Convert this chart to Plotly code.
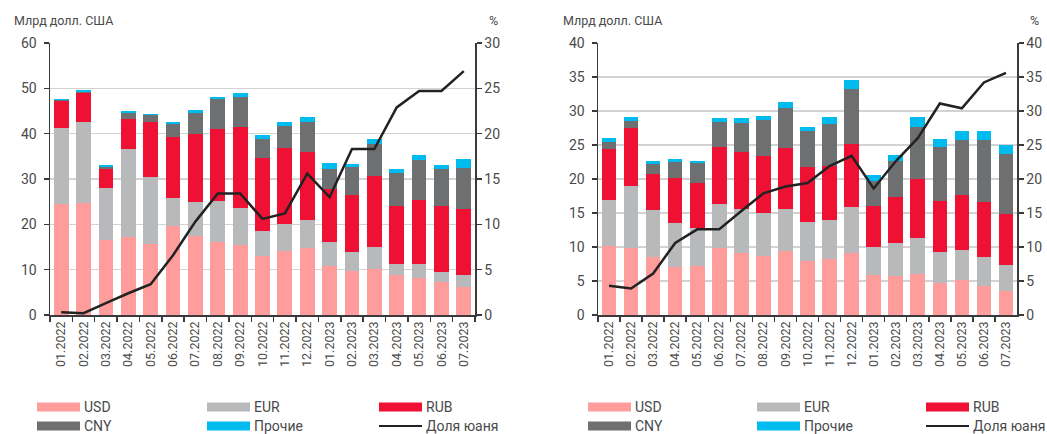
import plotly.graph_objects as go

months = ["01.2022", "02.2022", "03.2022", "04.2022", "05.2022", "06.2022", "07.2022",
          "08.2022", "09.2022", "10.2022", "11.2022", "12.2022", "01.2023", "02.2023",
          "03.2023", "04.2023", "05.2023", "06.2023", "07.2023"]

# Left chart (млрд долл. США)
usd_l = [24.5, 24.8, 16.5, 17.2, 15.6, 19.6, 17.5, 16.0, 15.5, 13.0, 14.2, 14.8, 10.9, 9.7, 10.2, 8.9, 8.2, 7.3, 6.2]
eur_l = [16.8, 17.7, 11.6, 19.5, 14.8, 6.1, 7.5, 9.2, 8.2, 5.6, 5.9, 6.1, 5.3, 4.3, 4.8, 2.4, 3.1, 2.1, 2.6]
rub_l = [6.0, 6.5, 4.2, 6.6, 12.1, 13.5, 15.0, 15.9, 17.8, 16.0, 16.7, 15.0, 11.6, 12.4, 15.7, 12.7, 14.0, 14.6, 14.5]
cny_l = [0.1, 0.3, 0.4, 1.2, 1.6, 2.9, 4.6, 6.6, 6.6, 4.2, 4.8, 6.7, 4.3, 6.2, 7.1, 7.4, 8.8, 8.1, 9.2]
oth_l = [0.3, 0.3, 0.3, 0.4, 0.3, 0.4, 0.7, 0.4, 0.8, 0.9, 0.9, 1.0, 1.5, 0.7, 1.1, 0.8, 1.2, 1.0, 1.9]
share_l = [0.3, 0.2, 1.3, 2.4, 3.4, 6.6, 10.3, 13.4, 13.4, 10.6, 11.2, 15.6, 13.0, 18.3, 18.3, 22.9, 24.7, 24.7, 26.9]

# Right chart (млрд долл. США)
usd_r = [10.1, 9.9, 8.6, 7.0, 7.2, 9.8, 9.1, 8.7, 9.4, 8.0, 8.3, 9.1, 5.9, 5.7, 6.1, 4.7, 5.1, 4.3, 3.5]
eur_r = [6.8, 9.0, 6.9, 6.5, 5.6, 6.5, 6.5, 6.3, 6.2, 5.7, 5.6, 6.8, 4.1, 4.9, 5.2, 4.6, 4.4, 4.3, 3.9]
rub_r = [7.5, 8.6, 5.3, 6.6, 6.6, 8.4, 8.3, 8.4, 8.9, 8.1, 8.0, 9.3, 6.0, 6.7, 8.7, 7.5, 8.1, 8.0, 7.5]
cny_r = [1.0, 1.1, 1.4, 2.4, 2.9, 3.7, 4.4, 5.3, 6.0, 5.3, 6.2, 8.0, 3.7, 5.4, 7.7, 7.9, 8.1, 9.1, 8.8]
oth_r = [0.6, 0.5, 0.4, 0.4, 0.4, 0.6, 0.6, 0.6, 0.8, 0.6, 1.0, 1.3, 0.9, 0.9, 1.4, 1.2, 1.3, 1.3, 1.3]
share_r = [4.3, 3.9, 6.1, 10.6, 12.6, 12.6, 15.3, 17.9, 18.9, 19.4, 21.9, 23.4, 18.6, 22.6, 26.0, 31.1, 30.4, 34.2, 35.6]

series_names = ["USD", "EUR", "RUB", "CNY", "Прочие"]
line_name = "Доля юаня"
unit_label = "Млрд долл. США"
pct_label = "%"

colors = {"USD": "#FF9C9C", "EUR": "#B8B9BB", "RUB": "#EE1133",
          "CNY": "#6E6F71", "Прочие": "#00BBEE", line_name: "#222222"}

W, H = 1047, 434
FONT = "Roboto, sans-serif"
TXT = "#4A4A4A"

def px(x):
    return x / W

def py(y):
    return 1 - y / H

fig = go.Figure()

left_data = [usd_l, eur_l, rub_l, cny_l, oth_l]
right_data = [usd_r, eur_r, rub_r, cny_r, oth_r]

for name, vals in zip(series_names, left_data):
    fig.add_trace(go.Bar(x=months, y=vals, name=name, marker=dict(color=colors[name], line=dict(width=0)),
                         xaxis="x", yaxis="y", showlegend=False))
fig.add_trace(go.Scatter(x=months, y=share_l, name=line_name, mode="lines",
                         line=dict(color=colors[line_name], width=2.5), xaxis="x", yaxis="y2", showlegend=False))

for name, vals in zip(series_names, right_data):
    fig.add_trace(go.Bar(x=months, y=vals, name=name, marker=dict(color=colors[name], line=dict(width=0)),
                         xaxis="x2", yaxis="y3", showlegend=False))
fig.add_trace(go.Scatter(x=months, y=share_r, name=line_name, mode="lines",
                         line=dict(color=colors[line_name], width=2.5), xaxis="x2", yaxis="y4", showlegend=False))

ydom = [py(315), py(43)]
axis_common = dict(showline=True, linecolor="#3A3A3A", linewidth=1.5, ticks="outside", ticklen=5,
                   tickcolor="#3A3A3A", tickwidth=1.5, tickfont=dict(family=FONT, size=14, color=TXT),
                   zeroline=False, fixedrange=True, automargin=False)

xcommon = dict(type="category", tickangle=-90, tickson="boundaries", showgrid=False,
               showline=True, linecolor="#3A3A3A", linewidth=1.5, ticks="outside", ticklen=5,
               tickcolor="#3A3A3A", tickwidth=1.5, tickfont=dict(family=FONT, size=12.5, color=TXT),
               range=[-0.5, 18.5], fixedrange=True, automargin=False)

fig.update_layout(
    template="none",
    width=W, height=H,
    margin=dict(l=0, r=0, t=0, b=0, pad=0),
    paper_bgcolor="white", plot_bgcolor="white",
    barmode="stack", bargap=0.34,
    font=dict(family=FONT, color=TXT),
    xaxis=dict(domain=[px(50), px(475)], anchor="y", **xcommon),
    xaxis2=dict(domain=[px(598), px(1017)], anchor="y3", **xcommon),
    yaxis=dict(domain=ydom, anchor="x", range=[0, 60], dtick=10, showgrid=True,
               gridcolor="#D3D3D3", gridwidth=1.5, ticklabelstandoff=4, **axis_common),
    yaxis2=dict(overlaying="y", anchor="x", side="right", range=[0, 30], dtick=5,
                showgrid=False, **axis_common),
    yaxis3=dict(domain=ydom, anchor="x2", range=[0, 40], dtick=5, showgrid=True,
                gridcolor="#D3D3D3", gridwidth=1.5, ticklabelstandoff=4, **axis_common),
    yaxis4=dict(overlaying="y3", anchor="x2", side="right", range=[0, 40], dtick=5,
                showgrid=False, **axis_common),
)

annotations = []
shapes = []

# axis unit titles
for xpos, ypos, text, anchor in [(12, 20, unit_label, "left"), (493, 20, pct_label, "center"),
                                 (561, 20, unit_label, "left"), (1034, 20, pct_label, "center")]:
    annotations.append(dict(x=px(xpos), y=py(ypos), xref="paper", yref="paper", text=text,
                            showarrow=False, xanchor=anchor, yanchor="middle",
                            font=dict(family=FONT, size=12.5, color=TXT)))

# manual legends (3 columns x 2 rows) under each chart
legend_items = series_names + [line_name]
for col_x in ([37, 207, 379], [588, 757, 926]):
    for i, name in enumerate(legend_items):
        row, col = divmod(i, 3)
        x0 = col_x[col]
        yc = [407, 426][row]
        if name == line_name:
            shapes.append(dict(type="line", xref="paper", yref="paper",
                               x0=px(x0), x1=px(x0 + 43), y0=py(yc), y1=py(yc),
                               line=dict(color=colors[name], width=2)))
        else:
            shapes.append(dict(type="rect", xref="paper", yref="paper",
                               x0=px(x0), x1=px(x0 + 43), y0=py(yc + 4.5), y1=py(yc - 4.5),
                               fillcolor=colors[name], line=dict(width=0)))
        annotations.append(dict(x=px(x0 + 45), y=py(yc), xref="paper", yref="paper", text=name,
                                showarrow=False, xanchor="left", yanchor="middle",
                                font=dict(family=FONT, size=14, color=TXT)))

fig.update_layout(annotations=annotations, shapes=shapes)

fig.write_html("out.html", config={"displayModeBar": False, "staticPlot": True},
               post_script="document.body.style.margin='0';document.body.style.overflow='hidden';")
